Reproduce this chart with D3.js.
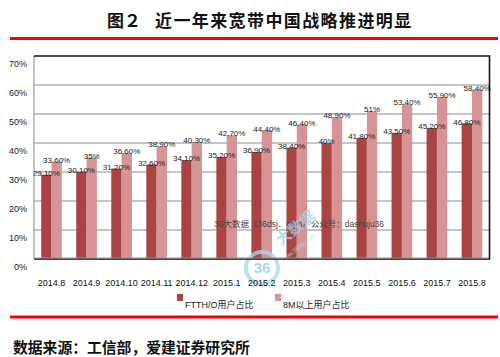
<!DOCTYPE html>
<html><head><meta charset="utf-8">
<script src="https://cdn.jsdelivr.net/npm/d3@7"></script>
<style>body{margin:0;background:#fff}svg{display:block}</style>
</head><body>
<script>
const categories = ["2014.8","2014.9","2014.10","2014.11","2014.12","2015.1","2015.2","2015.3","2015.4","2015.5","2015.6","2015.7","2015.8"];
const ftth = [29.1,30.1,31.2,32.6,34.1,35.2,36.9,38.4,40,41.8,43.5,45.2,46.8];
const m8 = [33.6,35,36.6,38.9,40.3,42.7,44.4,46.4,48.9,51,53.4,55.9,58.4];
const ftthLabels = ["29.10%","30.10%","31.20%","32.60%","34.10%","35.20%","36.90%","38.40%","40%","41.80%","43.50%","45.20%","46.80%"];
const m8Labels = ["33.60%","35%","36.60%","38.90%","40.30%","42.70%","44.40%","46.40%","48.90%","51%","53.40%","55.90%","58.40%"];
const seriesNames = ["FTTH/O用户占比","8M以上用户占比"];
const yTicks = [0,10,20,30,40,50,60,70];
const title1 = "图２", title2 = "近一年来宽带中国战略推进明显";
const source = "数据来源：工信部，爱建证券研究所";

(function(){
const W=500,H=357;
const colors=["#a94442","#d69494"];
const font="'Liberation Sans','Noto Sans CJK SC',sans-serif";
const svg=d3.select("body").append("svg").attr("width",W).attr("height",H);

const pL=34,pR=489.5,pT=56,pB=259;
const x=d3.scaleBand().domain(categories).range([pL,pR]).paddingInner(0.41).paddingOuter(0.205);
const xs=d3.scaleBand().domain([0,1]).range([0,x.bandwidth()]);
const y=d3.scaleLinear().domain([0,70]).range([pB,pT]);

// title
svg.append("text").attr("x",107).attr("y",27).attr("font-family","'Noto Sans CJK SC',sans-serif")
  .attr("font-weight",700).attr("font-size",17).attr("fill","#111").text(title1);
svg.append("text").attr("x",155).attr("y",27).attr("font-family","'Noto Sans CJK SC',sans-serif")
  .attr("font-weight",700).attr("font-size",17).attr("letter-spacing",1.4).attr("fill","#111").text(title2);
// red rules
svg.append("rect").attr("x",10).attr("y",37).attr("width",488).attr("height",3).attr("fill","#ff0000");
svg.append("rect").attr("x",10).attr("y",315.5).attr("width",488).attr("height",3).attr("fill","#ff0000");

// gridlines
svg.append("g").selectAll("line").data(yTicks.filter(d=>d>0&&d<70)).join("line")
  .attr("x1",pL).attr("x2",pR).attr("y1",d=>y(d)).attr("y2",d=>y(d))
  .attr("stroke","#8c8c8c").attr("stroke-width",1);
// y labels
svg.append("g").selectAll("text").data(yTicks).join("text")
  .attr("x",27).attr("y",d=>y(d)+8).attr("dy","0.35em").attr("text-anchor","end")
  .attr("font-family",font).attr("font-size",9).attr("fill","#222").text(d=>d+"%");

// bars
const data=categories.map((c,i)=>({c,i,vals:[ftth[i],m8[i]],labs:[ftthLabels[i],m8Labels[i]]}));
const g=svg.append("g").selectAll("g").data(data).join("g").attr("transform",d=>`translate(${x(d.c)},0)`);
g.selectAll("rect").data(d=>d.vals.map((v,k)=>({v,k}))).join("rect")
  .attr("x",d=>xs(d.k)).attr("width",xs.bandwidth())
  .attr("y",d=>y(d.v)).attr("height",d=>pB-y(d.v)).attr("fill",d=>colors[d.k]);
g.selectAll("text").data(d=>d.vals.map((v,k)=>({v,k,l:d.labs[k]}))).join("text")
  .attr("x",d=>xs(d.k)+xs.bandwidth()/2).attr("y",d=>y(d.v)-1.5).attr("dy","0.35em")
  .attr("text-anchor","middle").attr("font-family",font).attr("font-size",8).attr("fill","#222").text(d=>d.l);

// watermark text (over bars)
svg.append("text").attr("x",214).attr("y",224).attr("dy","0.35em")
  .attr("font-family",font).attr("font-size",8.5).attr("fill","#444")
  .text("36大数据（36dsj．com）公众号：dashuju36");

// logo watermark
const logo=svg.append("g").attr("opacity",0.75);
logo.append("circle").attr("cx",262).attr("cy",268).attr("r",16).attr("fill","none").attr("stroke","#a8d8f0").attr("stroke-width",4);
logo.append("text").attr("x",262).attr("y",268).attr("dy","0.35em").attr("text-anchor","middle")
  .attr("font-family",font).attr("font-weight",700).attr("font-size",15).attr("fill","#8fcbea").text("36");
logo.append("text").attr("transform","translate(281,246) rotate(-38)")
  .attr("font-family","'Noto Sans CJK SC',sans-serif").attr("font-weight",700).attr("font-size",15).attr("fill","#9fd2ee").text("大数据");
logo.append("text").attr("transform","translate(283,262) rotate(-38)")
  .attr("font-family",font).attr("font-size",6).attr("fill","#b8e0f4").text("www.36dsj.com");

// frame
svg.append("line").attr("x1",pL).attr("x2",pL).attr("y1",pT).attr("y2",pB).attr("stroke","#9a9a9a").attr("stroke-width",1.2);
svg.append("polyline").attr("points",`${pL},${pT} ${pR},${pT} ${pR},${pB} ${pL},${pB}`)
  .attr("fill","none").attr("stroke","#111").attr("stroke-width",1.6);
svg.append("line").attr("x1",pL).attr("x2",pR-1).attr("y1",pB-1).attr("y2",pB-1).attr("stroke","#9a9a9a").attr("stroke-width",1);

// x labels
svg.append("g").selectAll("text").data(categories).join("text")
  .attr("x",d=>x(d)+x.bandwidth()/2).attr("y",283).attr("dy","0.35em").attr("text-anchor","middle")
  .attr("font-family",font).attr("font-size",9).attr("fill","#111").text(d=>d);

// legend
const lx=[177,275];
const lg=svg.append("g").selectAll("g").data(seriesNames).join("g");
lg.append("rect").attr("x",(d,i)=>lx[i]).attr("y",294).attr("width",6).attr("height",7).attr("fill",(d,i)=>colors[i]);
lg.append("text").attr("x",(d,i)=>lx[i]+8).attr("y",305).attr("dy","0.35em")
  .attr("font-family",font).attr("font-size",9).attr("fill","#222").text(d=>d);

// source
svg.append("text").attr("x",13).attr("y",353).attr("font-family","'Noto Sans CJK SC',sans-serif")
  .attr("font-weight",700).attr("font-size",14.8).attr("fill","#111").text(source);
})();
</script>
</body></html>
